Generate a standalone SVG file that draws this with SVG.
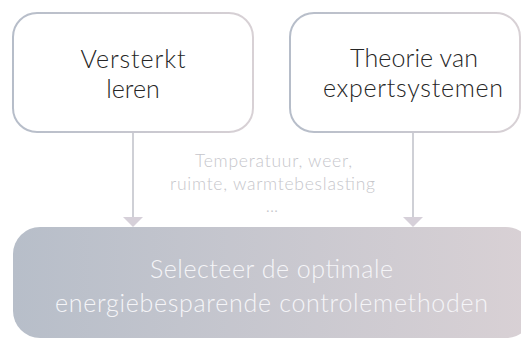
<svg xmlns="http://www.w3.org/2000/svg" width="521" height="341" viewBox="0 0 521 341">
<defs>
<linearGradient id="gStroke" x1="0" y1="0" x2="1" y2="0">
<stop offset="0" stop-color="#b6bdc9"/>
<stop offset="1" stop-color="#d8d1d5"/>
</linearGradient>
<linearGradient id="gFill" x1="0" y1="0" x2="1" y2="0">
<stop offset="0" stop-color="#b7bec9"/>
<stop offset="1" stop-color="#d9d1d5"/>
</linearGradient>
</defs>
<style>
.box{fill:#ffffff;stroke:url(#gStroke);stroke-width:2}
.t{font-family:Lato,"Open Sans",sans-serif;font-weight:300;text-anchor:middle}
.dark{fill:#262626;font-size:25px}
.mid{fill:#c6c6cb;font-size:17.5px}
.light{fill:#f5f5f8;font-size:25px}
.line{stroke:#cfd0d6;stroke-width:2;fill:none}
.head{fill:#d6d0d9}
</style>
<g id="connectors">
<line class="line" x1="133" y1="133" x2="133" y2="218"/>
<polygon class="head" points="123,217 143,217 133,227"/>
<line class="line" x1="413" y1="133" x2="413" y2="218"/>
<polygon class="head" points="403,217 423,217 413,227"/>
</g>
<g id="node-versterkt">
<rect class="box" x="13" y="13" width="240" height="119" rx="24"/>
<text class="t dark" x="133" y="68" textLength="105" lengthAdjust="spacing">Versterkt</text>
<text class="t dark" x="133" y="98">leren</text>
</g>
<g id="node-theorie">
<rect class="box" x="290" y="13" width="230" height="119" rx="24"/>
<text class="t dark" x="414" y="67" textLength="128" lengthAdjust="spacing">Theorie van</text>
<text class="t dark" x="413" y="97" textLength="180" lengthAdjust="spacing">expertsystemen</text>
</g>
<g id="label">
<text class="t mid" x="273.5" y="167" textLength="157" lengthAdjust="spacing">Temperatuur, weer,</text>
<text class="t mid" x="272.5" y="190" textLength="205" lengthAdjust="spacing">ruimte, warmtebeslasting</text>
<text class="t mid" x="272" y="212">...</text>
</g>
<g id="node-select">
<rect x="13" y="227" width="520" height="111" rx="27" fill="url(#gFill)"/>
<text class="t light" x="271.5" y="278" textLength="243" lengthAdjust="spacing">Selecteer de optimale</text>
<text class="t light" x="271.5" y="312" textLength="433" lengthAdjust="spacing">energiebesparende controlemethoden</text>
</g>
</svg>
